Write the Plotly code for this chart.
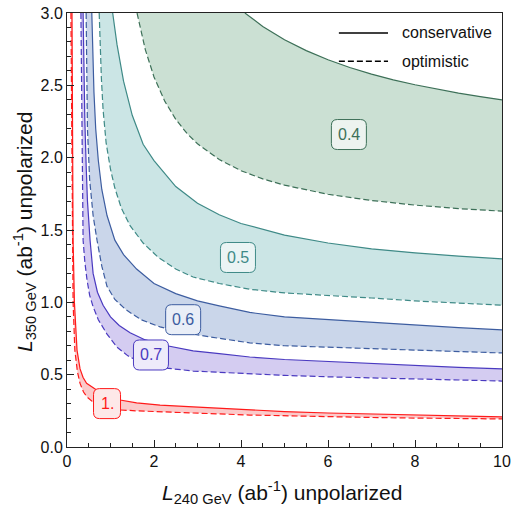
import plotly.graph_objects as go

# ---------------- data ----------------
levels = ["0.4", "0.5", "0.6", "0.7", "1."]

# conservative (solid) and optimistic (dashed) curves
c04_x = [4.09, 4.5, 5.0, 5.5, 6.0, 6.5, 7.0, 7.5, 8.0, 8.5, 9.0, 9.5, 10.0]
c04_y = [3.0, 2.907, 2.815, 2.74, 2.677, 2.623, 2.578, 2.538, 2.504, 2.473, 2.446, 2.422, 2.40]
o04_x = [1.61, 1.8, 2.0, 2.25, 2.5, 2.76, 3.0, 3.5, 4.0, 4.5, 5.0, 6.0, 7.0, 8.0, 9.0, 10.0]
o04_y = [3.0, 2.747, 2.558, 2.389, 2.265, 2.167, 2.096, 1.987, 1.91, 1.853, 1.81, 1.747, 1.704, 1.672, 1.648, 1.63]

c05_x = [1.05, 1.15, 1.3, 1.5, 1.75, 2.0, 2.5, 3.0, 3.5, 4.0, 5.0, 6.0, 7.0, 8.0, 9.0, 10.0]
c05_y = [3.0, 2.781, 2.529, 2.293, 2.093, 1.98, 1.80, 1.685, 1.605, 1.545, 1.465, 1.41, 1.37, 1.342, 1.32, 1.30]
o05_x = [0.74, 0.76, 0.79, 0.83, 0.9, 1.0, 1.1, 1.25, 1.45, 1.75, 2.1, 2.5, 2.9, 3.5, 4.21, 5.0, 6.0, 7.0, 8.0, 9.0, 10.0]
o05_y = [3.0, 2.8, 2.55, 2.33, 2.1, 1.92, 1.79, 1.65, 1.53, 1.41, 1.31, 1.23, 1.175, 1.13, 1.09, 1.065, 1.05, 1.03, 1.01, 0.995, 0.98]

c06_x = [0.57, 0.59, 0.62, 0.66, 0.72, 0.8, 0.92, 1.1, 1.3, 1.6, 2.0, 2.5, 3.0, 3.5, 4.2, 5.0, 6.0, 7.0, 8.0, 9.0, 10.0]
c06_y = [3.0, 2.7, 2.45, 2.2, 1.98, 1.78, 1.6, 1.43, 1.33, 1.23, 1.13, 1.06, 1.01, 0.975, 0.93, 0.9, 0.88, 0.86, 0.84, 0.825, 0.81]
o06_x = [0.44, 0.45, 0.47, 0.52, 0.6, 0.69, 0.8, 0.92, 1.1, 1.35, 1.7, 2.14, 2.7, 3.3, 4.2, 5.0, 6.0, 7.0, 8.0, 9.0, 10.0]
o06_y = [3.0, 2.6, 2.2, 1.85, 1.6, 1.43, 1.25, 1.11, 1.02, 0.95, 0.88, 0.83, 0.79, 0.76, 0.72, 0.70, 0.69, 0.678, 0.667, 0.658, 0.65]

c07_x = [0.37, 0.39, 0.41, 0.44, 0.47, 0.53, 0.6, 0.7, 0.83, 1.0, 1.2, 1.45, 1.8, 2.3, 2.9, 3.5, 4.2, 5.0, 6.0, 7.0, 8.0, 9.0, 10.0]
c07_y = [3.0, 2.6, 2.26, 1.95, 1.7, 1.43, 1.2, 1.07, 0.98, 0.9, 0.84, 0.79, 0.74, 0.70, 0.665, 0.645, 0.622, 0.605, 0.59, 0.575, 0.562, 0.55, 0.54]
o07_x = [0.32, 0.33, 0.34, 0.355, 0.37, 0.41, 0.46, 0.52, 0.6, 0.72, 0.92, 1.15, 1.4, 1.7, 2.14, 2.9, 3.5, 4.2, 5.0, 6.0, 7.0, 8.0, 9.0, 10.0]
o07_y = [3.0, 2.6, 2.26, 1.8, 1.43, 1.28, 1.155, 1.05, 0.97, 0.88, 0.78, 0.69, 0.63, 0.585, 0.55, 0.525, 0.515, 0.505, 0.495, 0.485, 0.478, 0.47, 0.463, 0.456]

c10_x = [0.115, 0.12, 0.13, 0.14, 0.17, 0.23, 0.3, 0.37, 0.45, 0.6, 0.8, 1.0, 1.22, 1.6, 2.14, 2.9, 3.5, 4.2, 5.0, 6.0, 7.0, 8.0, 9.0, 10.0]
c10_y = [3.0, 2.5, 2.0, 1.43, 1.0, 0.67, 0.54, 0.48, 0.44, 0.41, 0.37, 0.345, 0.325, 0.305, 0.29, 0.277, 0.268, 0.256, 0.245, 0.235, 0.227, 0.22, 0.214, 0.208]
o10_x = [0.09, 0.1, 0.11, 0.12, 0.14, 0.18, 0.24, 0.3, 0.38, 0.46, 0.6, 0.8, 1.0, 1.22, 1.6, 2.14, 2.9, 4.2, 5.0, 6.0, 7.0, 8.0, 9.0, 10.0]
o10_y = [3.0, 2.5, 2.0, 1.43, 1.0, 0.67, 0.52, 0.44, 0.38, 0.346, 0.31, 0.285, 0.27, 0.256, 0.25, 0.242, 0.235, 0.221, 0.215, 0.209, 0.204, 0.2, 0.197, 0.194]

# label positions
label_x = [6.48, 3.93, 2.67, 1.93, 0.92]
label_y = [2.16, 1.31, 0.88, 0.636, 0.30]

x_ticks = [0, 2, 4, 6, 8, 10]
y_ticks = [0.0, 0.5, 1.0, 1.5, 2.0, 2.5, 3.0]

x_title = "<i>L</i><sub>240 GeV</sub> (ab<sup>-1</sup>) unpolarized"
y_title = "<i>L</i><sub>350 GeV</sub> (ab<sup>-1</sup>) unpolarized"

# ---------------- styles ----------------
line_colors = ["#3d7058", "#3f8a87", "#3d5da0", "#4a3ac0", "#ff1a1a"]
fill_colors = ["#cbe0d3", "#cbe5e5", "#cad6ea", "#d4ccf1", "#fbcaca"]
box_fills = ["#edf3ef", "#eaf4f4", "#e9eef7", "#eeebfa", "#fde8e8"]

curves = [
    (c04_x, c04_y, o04_x, o04_y),
    (c05_x, c05_y, o05_x, o05_y),
    (c06_x, c06_y, o06_x, o06_y),
    (c07_x, c07_y, o07_x, o07_y),
    (c10_x, c10_y, o10_x, o10_y),
]

fig = go.Figure()
for i, (cx, cy, ox, oy) in enumerate(curves):
    px = list(cx) + list(reversed(ox))
    py = list(cy) + list(reversed(oy))
    fig.add_trace(go.Scatter(x=px, y=py, mode="lines", fill="toself",
                             fillcolor=fill_colors[i], line=dict(width=0),
                             hoverinfo="skip", showlegend=False))
    fig.add_trace(go.Scatter(x=cx, y=cy, mode="lines",
                             line=dict(color=line_colors[i], width=1.2),
                             showlegend=False))
    fig.add_trace(go.Scatter(x=ox, y=oy, mode="lines",
                             line=dict(color=line_colors[i], width=1.2, dash="6px,3px"),
                             showlegend=False))

FONT = "Liberation Sans, Arial, sans-serif"


def rounded_box(w, h, r):
    a, b = w / 2, h / 2
    return (f"M {-a + r},{-b} L {a - r},{-b} Q {a},{-b} {a},{-b + r} "
            f"L {a},{b - r} Q {a},{b} {a - r},{b} L {-a + r},{b} "
            f"Q {-a},{b} {-a},{b - r} L {-a},{-b + r} Q {-a},{-b} {-a + r},{-b} Z")


for i, lab in enumerate(levels):
    w = 35 if len(lab) > 2 else 27
    fig.add_shape(type="path", xref="x", yref="y", xsizemode="pixel", ysizemode="pixel",
                  xanchor=label_x[i], yanchor=label_y[i], path=rounded_box(w, 30, 6),
                  fillcolor=box_fills[i], line=dict(color=line_colors[i], width=1), layer="above")
    fig.add_annotation(x=label_x[i], y=label_y[i], text=lab, showarrow=False,
                       font=dict(family=FONT, size=16, color=line_colors[i]))

# custom legend
fig.add_shape(type="line", xref="paper", yref="paper", x0=0.625, x1=0.738, y0=0.954, y1=0.954,
              line=dict(color="black", width=1.5))
fig.add_shape(type="line", xref="paper", yref="paper", x0=0.625, x1=0.738, y0=0.889, y1=0.889,
              line=dict(color="black", width=1.5, dash="6px,3px"))
fig.add_annotation(xref="paper", yref="paper", x=0.765, y=0.954, text="conservative",
                   showarrow=False, xanchor="left", yanchor="middle",
                   font=dict(family=FONT, size=16, color="#111"))
fig.add_annotation(xref="paper", yref="paper", x=0.765, y=0.889, text="optimistic",
                   showarrow=False, xanchor="left", yanchor="middle",
                   font=dict(family=FONT, size=16, color="#111"))

# axis titles
fig.add_annotation(xref="paper", yref="paper", x=0.5, y=0, xshift=-3, yshift=-45, text=x_title,
                   showarrow=False, xanchor="center", yanchor="middle",
                   font=dict(family=FONT, size=21, color="#111"))
fig.add_annotation(xref="paper", yref="paper", x=0, xshift=-43, y=0.5, yshift=-2, text=y_title,
                   textangle=-90, showarrow=False, xanchor="center", yanchor="middle",
                   font=dict(family=FONT, size=21, color="#111"))

axis_common = dict(showgrid=False, zeroline=False, showline=True, mirror=True,
                   linecolor="#222", linewidth=1, ticks="inside", ticklen=7,
                   tickcolor="#222", automargin=False,
                   tickfont=dict(family=FONT, size=16, color="#111"))

fig.update_xaxes(range=[0, 10], tickvals=x_ticks, ticktext=[str(v) for v in x_ticks],
                 minor=dict(dtick=0.5, ticks="inside", ticklen=4, tickcolor="#222"),
                 **axis_common)
fig.update_yaxes(range=[0, 3], tickvals=y_ticks, ticktext=[f"{v:.1f}" for v in y_ticks],
                 minor=dict(dtick=0.1, ticks="inside", ticklen=4, tickcolor="#222"),
                 **axis_common)

fig.update_layout(width=514, height=506, margin=dict(l=67, r=12, t=13, b=59),
                  plot_bgcolor="white", paper_bgcolor="white", showlegend=False)

fig.write_html("out.html", config={"displayModeBar": False},
               post_script="document.body.style.margin='0';document.body.style.overflow='hidden';")
